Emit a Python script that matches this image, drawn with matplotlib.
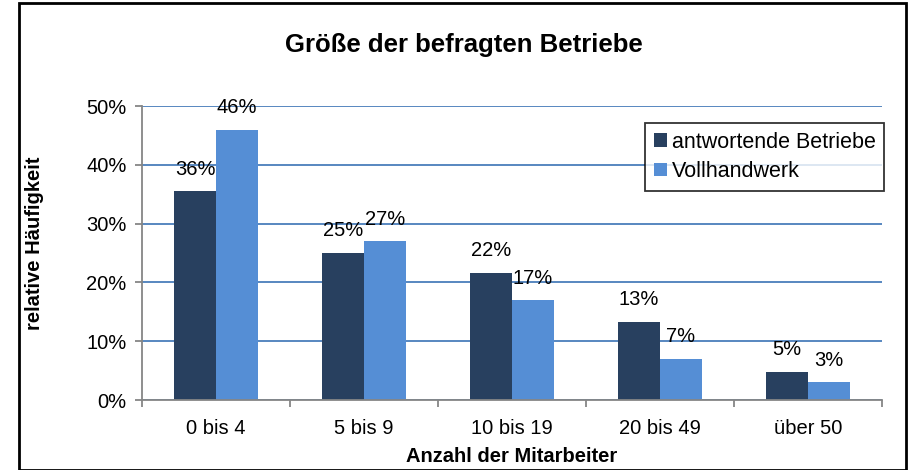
import matplotlib
matplotlib.use("Agg")
import matplotlib.pyplot as plt
import numpy as np
from matplotlib.patches import Rectangle
from matplotlib.ticker import FuncFormatter

plt.rcParams['font.family'] = ['Liberation Sans', 'DejaVu Sans']

kategorien = ['0 bis 4', '5 bis 9', '10 bis 19', '20 bis 49', 'über 50']
antwortende = [35.5, 25.0, 21.6, 13.3, 4.8]
vollhandwerk = [46.0, 27.0, 17.0, 7.0, 3.0]
labels_antw = ['36%', '25%', '22%', '13%', '5%']
labels_voll = ['46%', '27%', '17%', '7%', '3%']

dunkel = '#28405f'
hell = '#558ed5'
grau = '#868686'

fig = plt.figure(figsize=(9.14, 4.70), dpi=100)
ax = fig.add_axes([142/914, 70/470, 740/914, 294/470])

x = np.arange(len(kategorien))
w = 0.284
b1 = ax.bar(x - w/2, antwortende, w, color=dunkel, label='antwortende Betriebe', zorder=3)
b2 = ax.bar(x + w/2, vollhandwerk, w, color=hell, label='Vollhandwerk', zorder=3)

# Beschriftung über den Balken
for bars, labs in ((b1, labels_antw), (b2, labels_voll)):
    for r, t in zip(bars, labs):
        ax.annotate(t, (r.get_x() + r.get_width()/2, r.get_height()),
                    xytext=(0, 22), textcoords='offset pixels',
                    ha='center', va='center', fontsize=14.5, zorder=4)

ax.set_xlim(-0.5, 4.5)
ax.set_ylim(0, 50)
ax.set_yticks(range(0, 51, 10))
ax.yaxis.set_major_formatter(FuncFormatter(lambda v, p: f'{int(v)}%'))
ax.grid(axis='y', color='#4a7ebb', linewidth=1.3, zorder=1)
ax.set_xticks(x)
ax.set_xticklabels(kategorien)
ax.set_xticks(np.arange(-0.5, 5, 1), minor=True)
ax.tick_params(axis='x', which='major', length=0, labelsize=14.5, pad=14)
ax.tick_params(axis='x', which='minor', length=5, color=grau, width=1.3, direction='out')
ax.tick_params(axis='y', length=5, color=grau, width=1.3, labelsize=14.5, pad=6)

for s in ('top', 'right'):
    ax.spines[s].set_visible(False)
for s in ('left', 'bottom'):
    ax.spines[s].set_color(grau)
    ax.spines[s].set_linewidth(1.3)
    ax.spines[s].set_zorder(5)

fig.text(512/914, 1 - 456/470, 'Anzahl der Mitarbeiter', ha='center', va='center',
         fontsize=14.5, fontweight='bold')
fig.text(35/914, 1 - 243/470, 'relative Häufigkeit', ha='center', va='center',
         rotation=90, fontsize=14.5, fontweight='bold')
fig.text(464/914, 1 - 45/470, 'Größe der befragten Betriebe', ha='center', va='center',
         fontsize=18.5, fontweight='bold')

leg = ax.legend(loc='upper left', bbox_to_anchor=((645-142)/740, (400-123)/294),
                fontsize=15.5, frameon=True, fancybox=False, edgecolor='black',
                handlelength=0.6, handleheight=0.6, handletextpad=0.25,
                borderpad=0.4, labelspacing=0.4, borderaxespad=0)
leg.get_frame().set_linewidth(1.3)

fig.patches.append(Rectangle((19/914, 0), (906-19)/914, (470-8)/470 + 0.01,
                             transform=fig.transFigure, fill=False,
                             edgecolor='black', linewidth=2, clip_on=False))

fig.savefig('out.png', dpi=100)
